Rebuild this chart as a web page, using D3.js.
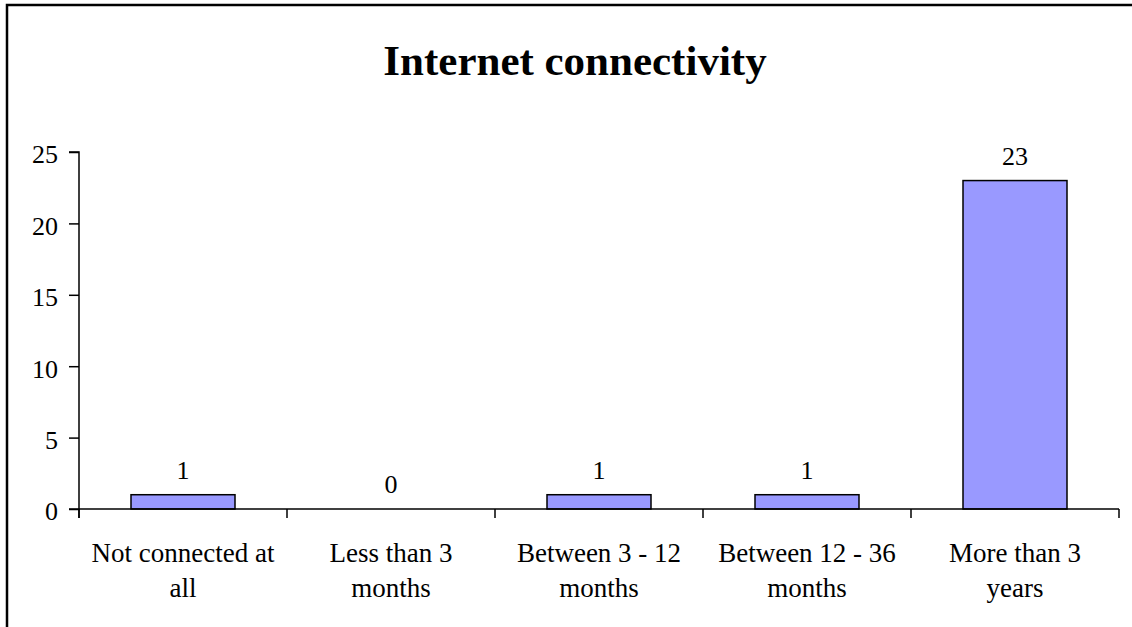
<!DOCTYPE html>
<html>
<head>
<meta charset="utf-8">
<script src="https://cdn.jsdelivr.net/npm/d3@7"></script>
<style>
  html, body { margin: 0; padding: 0; background: #fff; }
  svg { display: block; }
  text { font-family: "Liberation Serif", "Times New Roman", serif; fill: #000; }
</style>
</head>
<body>
<svg id="chart" width="1132" height="627"></svg>
<script>
// Chart data
const title = "Internet connectivity";
const categories = [
  "Not connected at all",
  "Less than 3 months",
  "Between 3 - 12 months",
  "Between 12 - 36 months",
  "More than 3 years"
];
const categoryLines = [
  ["Not connected at", "all"],
  ["Less than 3", "months"],
  ["Between 3 - 12", "months"],
  ["Between 12 - 36", "months"],
  ["More than 3", "years"]
];
const values = [1, 0, 1, 1, 23];
const yTicks = [0, 5, 10, 15, 20, 25];

const svg = d3.select("#chart");
const serif = "'Liberation Serif', 'Times New Roman', serif";

// Outer frame of the chart area
svg.append("rect")
  .attr("x", 7).attr("y", 5)
  .attr("width", 1300).attr("height", 800)
  .attr("fill", "none")
  .attr("stroke", "#000")
  .attr("stroke-width", 2.5);

const plot = { left: 79, right: 1119, top: 152, bottom: 509 };

const x = d3.scaleBand()
  .domain(categories)
  .range([plot.left, plot.right])
  .paddingInner(0.5)
  .paddingOuter(0.25);

const y = d3.scaleLinear()
  .domain([0, 25])
  .range([plot.bottom, plot.top]);

// Title
svg.append("text")
  .attr("x", 575).attr("y", 75)
  .attr("text-anchor", "middle")
  .attr("font-family", serif)
  .attr("font-size", 43)
  .attr("font-weight", "bold")
  .text(title);

// Bars
svg.append("g").selectAll("rect")
  .data(values)
  .join("rect")
  .attr("x", (d, i) => x(categories[i]))
  .attr("y", d => y(d))
  .attr("width", x.bandwidth())
  .attr("height", d => y(0) - y(d))
  .attr("fill", "#9999FF")
  .attr("stroke", "#000")
  .attr("stroke-width", 1.5)
  .attr("display", d => d === 0 ? "none" : null);

// Value labels
svg.append("g").selectAll("text")
  .data(values)
  .join("text")
  .attr("x", (d, i) => x(categories[i]) + x.bandwidth() / 2)
  .attr("y", d => y(d) - 16)
  .attr("text-anchor", "middle")
  .attr("font-family", serif)
  .attr("font-size", 26)
  .text(d => d);

// Y axis
const yAxis = d3.axisLeft(y)
  .tickValues(yTicks)
  .tickSize(10)
  .tickPadding(11)
  .tickFormat(d3.format("d"));

const gy = svg.append("g")
  .attr("transform", `translate(${plot.left},0)`)
  .call(yAxis);
gy.select(".domain").attr("d", `M-10,${plot.top}H0V${plot.bottom + 9}`);
gy.selectAll("path, line").attr("stroke", "#000").attr("stroke-width", 1.5);
gy.selectAll("text")
  .attr("font-family", serif)
  .attr("font-size", 26)
  .attr("dy", "0.42em");

// X axis with ticks at category boundaries
const boundaries = d3.range(categories.length + 1)
  .map(i => plot.left + i * x.step());

const gx = svg.append("g");
gx.append("line")
  .attr("x1", plot.left - 10).attr("x2", plot.right)
  .attr("y1", plot.bottom).attr("y2", plot.bottom)
  .attr("stroke", "#000").attr("stroke-width", 1.5);
gx.selectAll("line.tick")
  .data(boundaries)
  .join("line")
  .attr("class", "tick")
  .attr("x1", d => d).attr("x2", d => d)
  .attr("y1", plot.bottom).attr("y2", plot.bottom + 9)
  .attr("stroke", "#000").attr("stroke-width", 1.5);

// Category labels (two lines each)
const labels = gx.selectAll("text")
  .data(categoryLines)
  .join("text")
  .attr("text-anchor", "middle")
  .attr("font-family", serif)
  .attr("font-size", 27)
  .attr("transform", (d, i) => `translate(${x(categories[i]) + x.bandwidth() / 2},562)`);
labels.selectAll("tspan")
  .data(d => d)
  .join("tspan")
  .attr("x", 0)
  .attr("y", (d, j) => j * 35)
  .text(d => d);
</script>
</body>
</html>
